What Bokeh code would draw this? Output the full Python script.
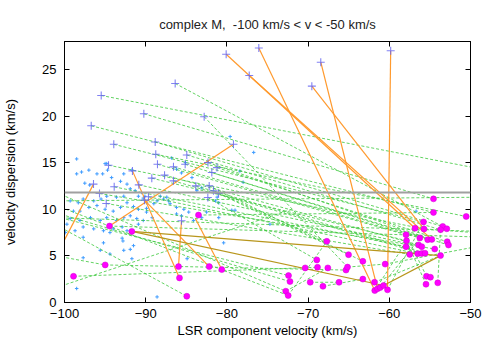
from bokeh.plotting import figure
from bokeh.models import ColumnDataSource, Span, LinearAxis, FixedTicker, Range1d
from bokeh.embed import file_html
from bokeh.resources import INLINE

title_text = "complex M,\u00a0 -100 km/s < v < -50 km/s"
x_label = "LSR component velocity (km/s)"
y_label = "velocity dispersion (km/s)"
x_ticks = [-100, -90, -80, -70, -60, -50]
y_ticks = [0, 5, 10, 15, 20, 25]
threshold = 11.8

# final positions (magenta)
end_x = [-94.46, -91.71, -94.99, -98.89, -85.96, -85.84, -84.94, -82.18, -80.63, -83.50,
         -67.70, -65.02, -63.26, -68.93, -70.36, -68.84, -67.57, -65.33, -65.15, -72.41,
         -72.23, -69.74, -68.17, -66.19, -72.75, -72.45, -63.26, -61.82, -61.79, -61.45,
         -61.12, -60.71, -60.22, -60.51, -54.56, -54.56, -50.53, -55.79, -56.83, -55.73,
         -53.42, -52.92, -53.69, -57.94, -56.24, -55.27, -54.77, -52.87, -52.71, -57.88,
         -56.40, -57.94, -56.00, -54.41, -57.48, -56.50, -56.00, -55.60, -53.69, -55.42,
         -54.93, -54.03, -55.48]
end_y = [8.20, 7.63, 4.03, 2.81, 3.85, 2.64, 0.67, 3.85, 3.53, 9.38,
         6.56, 5.13, 4.42, 4.57, 3.71, 3.78, 3.71, 3.48, 3.80, 2.89,
         2.25, 2.17, 1.74, 2.17, 1.21, 0.75, 2.51, 2.17, 1.28, 1.47,
         1.60, 1.82, 1.36, 4.12, 11.12, 9.66, 9.23, 8.64, 7.97, 7.88,
         8.16, 7.91, 7.81, 7.27, 6.92, 6.74, 6.77, 6.52, 6.17, 6.63,
         6.18, 5.99, 5.99, 5.74, 5.16, 5.24, 5.27, 5.29, 5.03, 2.81,
         2.71, 2.11, 1.96]

# initial positions (large blue crosses)
start_x = [-80.09, -76.07, -77.25, -68.44, -69.54, -59.83, -86.37, -95.48, -90.23, -82.80,
           -96.71, -93.93, -88.83, -88.76, -84.94, -94.58, -88.55, -86.58, -82.33, -81.22,
           -81.86, -79.19, -91.63, -89.25, -87.68, -93.88, -90.85, -96.43, -95.69, -94.86,
           -90.15, -89.66, -86.58, -83.83, -82.18, -81.03, -82.35, -85.59, -81.65, -85.14]
start_y = [26.63, 27.30, 24.35, 25.78, 23.21, 27.01, 23.50, 22.21, 20.25, 19.93,
           18.96, 16.97, 17.22, 15.90, 15.83, 14.73, 14.83, 14.55, 15.01, 14.47,
           13.94, 16.97, 14.12, 13.34, 13.66, 12.41, 12.62, 12.70, 11.69, 10.62,
           10.98, 11.34, 13.05, 12.51, 12.51, 11.69, 11.26, 8.77, 11.98, 14.83]

# small light-blue points
small_x = [-98.5, -97.9, -98.5, -97.0, -95.0, -94.7, -96.0, -95.3, -97.5, -96.9,
           -94.2, -93.1, -92.7, -92.3, -91.9, -91.3, -90.9, -90.3, -89.9, -90.5,
           -92.7, -93.6, -94.8, -95.5, -96.4, -97.7, -98.3, -99.3, -98.9, -98.1,
           -97.0, -96.0, -95.0, -94.0, -93.1, -92.3, -91.5, -90.9, -89.9, -89.0,
           -88.6, -88.2, -87.8, -87.2, -99.3, -98.1, -96.8, -95.6, -94.8, -93.6,
           -92.7, -91.9, -91.1, -97.7, -96.4, -95.2, -94.0, -92.9, -92.3, -90.9,
           -89.2, -99.9, -98.7, -89.9, -90.1, -92.8, -92.9, -91.5, -92.7, -94.4,
           -95.6, -97.7, -98.5, -88.6, -84.9, -91.7, -91.9, -90.3, -94.4, -95.2,
           -97.7, -99.7, -94.8, -79.6, -86.8, -85.1, -86.2, -85.6, -84.3, -83.7,
           -83.1, -81.2, -81.4, -81.0, -87.4, -87.0, -86.2, -85.3, -84.7, -86.2,
           -85.6, -84.1, -83.1, -82.5, -81.0, -79.4, -78.0, -78.4, -76.7, -79.0,
           -74.7, -80.4, -56.7, -91.7]
small_y = [15.4, 14.0, 13.8, 14.2, 14.9, 14.2, 13.8, 13.8, 12.8, 12.6,
           13.4, 13.0, 13.8, 12.7, 12.2, 12.0, 11.4, 11.2, 10.7, 11.8,
           11.4, 11.3, 11.4, 11.1, 10.9, 11.1, 10.7, 10.9, 9.8, 9.8,
           10.2, 10.4, 10.0, 9.8, 10.2, 10.7, 10.3, 10.0, 10.1, 10.6,
           10.9, 11.4, 11.1, 10.9, 9.0, 8.8, 9.1, 8.8, 9.1, 8.8,
           9.1, 9.3, 9.0, 8.1, 7.9, 7.7, 7.9, 8.1, 7.7, 8.4,
           9.1, 7.5, 7.7, 9.7, 11.4, 6.6, 6.9, 6.1, 5.6, 5.2,
           5.6, 4.8, 1.5, 0.6, 4.7, 4.7, 5.7, 8.8, 7.5, 6.4,
           7.0, 8.4, 14.9, 17.8, 15.5, 15.0, 14.3, 13.9, 13.4, 12.0,
           12.3, 11.3, 10.9, 10.7, 11.3, 10.6, 10.2, 10.0, 9.7, 9.5,
           9.3, 8.8, 9.1, 9.7, 9.1, 9.9, 12.9, 14.1, 16.1, 9.9,
           8.4, 6.4, 9.8, 14.2]

# green dashed tracks
g_x0 = [-86.37, -95.48, -90.23, -82.80, -96.71, -93.93, -88.83, -88.76, -84.94, -94.58,
        -88.55, -86.58, -82.33, -81.22, -81.86, -89.25, -87.68, -93.88, -90.85, -95.69,
        -94.86, -89.66, -86.58, -83.83, -82.18, -81.03, -82.35, -81.65, -85.14, -101.0,
        -101.0, -101.0, -101.0, -101.0, -101.0, -101.0, -61.79, -60.22, -61.12, -61.82,
        -72.75, -72.45, -55.42, -55.48, -54.03, -69.74, -56.83, -60.51, -94.46, -101.0,
        -101.0, -83.50, -98.89, -94.99, -68.17, -65.15]
g_y0 = [23.50, 22.21, 20.25, 19.93, 18.96, 16.97, 17.22, 15.90, 15.83, 14.73,
        14.83, 14.55, 15.01, 14.47, 13.94, 13.34, 13.66, 12.41, 12.62, 11.69,
        10.62, 11.34, 13.05, 12.51, 12.51, 11.69, 11.26, 11.98, 14.83, 11.8,
        10.4, 9.2, 9.6, 9.1, 10.9, 1.6, 1.28, 1.36, 1.60, 2.17,
        1.21, 0.75, 2.81, 1.96, 2.11, 2.17, 7.97, 4.12, 8.20, 5.0,
        8.3, 9.38, 2.81, 4.03, 1.74, 3.80]
g_x1 = [-52.92, -48.0, -54.56, -65.15, -54.56, -55.79, -53.42, -50.53, -53.69, -55.73,
        -57.94, -56.24, -54.77, -52.87, -52.71, -57.88, -56.40, -57.94, -56.00, -54.41,
        -57.48, -56.50, -56.00, -55.60, -63.26, -65.02, -68.93, -67.70, -55.27, -72.75,
        -72.45, -72.41, -72.23, -48.0, -48.0, -72.0, -56.83, -55.79, -56.24, -53.69,
        -67.57, -67.70, -57.94, -57.88, -53.69, -66.19, -48.0, -48.0, -48.0, -94.99,
        -84.94, -54.56, -68.84, -65.33, -63.26, -60.51]
g_y1 = [7.91, 14.2, 11.12, 3.80, 9.66, 8.64, 8.16, 9.23, 7.81, 7.88,
        7.27, 6.92, 6.77, 6.52, 6.17, 6.63, 6.18, 5.99, 5.99, 5.74,
        5.16, 5.24, 5.27, 5.29, 4.42, 5.13, 4.57, 6.56, 6.74, 1.21,
        0.75, 2.89, 2.25, 7.6, 11.3, 10.0, 7.97, 8.64, 6.92, 5.03,
        3.71, 6.56, 7.27, 6.63, 7.81, 2.17, 7.4, 6.2, 7.0, 4.03,
        0.67, 9.66, 3.78, 3.48, 2.51, 4.12]

# orange tracks
o_x0 = [-80.09, -77.25, -69.54, -76.07, -68.44, -59.83, -96.43, -94.46, -91.63, -85.96, -90.15, -83.87]
o_y0 = [26.63, 24.35, 23.21, 27.30, 25.78, 27.01, 12.70, 8.20, 14.12, 3.85, 10.98, 8.98]
o_x1 = [-56.83, -54.77, -55.73, -61.79, -61.45, -60.22, -101.0, -79.19, -85.84, -85.59, -82.18, -80.63]
o_y1 = [7.97, 6.77, 7.88, 1.28, 1.47, 1.36, 5.04, 16.97, 2.64, 8.77, 3.85, 3.53]

# olive tracks
v_x0 = [-91.71, -91.71, -60.71]
v_y0 = [7.63, 7.63, 1.82]
v_x1 = [-53.69, -60.71, -53.69]
v_y1 = [5.03, 1.82, 5.03]

FONT = "Liberation Sans"

p = figure(frame_width=406, frame_height=261,
           x_range=Range1d(-100, -50), y_range=Range1d(0, 28),
           output_backend="svg", toolbar_location=None,
           min_border_left=61, min_border_right=24,
           min_border_top=41, min_border_bottom=41,
           background_fill_color="white", border_fill_color="white")

p.title.text = title_text
p.title.align = "center"
p.title.text_font = FONT
p.title.text_font_size = "13px"
p.title.text_font_style = "normal"
p.title.text_color = "#222222"
p.title.standoff = 19

p.grid.visible = False
p.outline_line_color = "black"
p.outline_line_width = 1

for ax in [p.xaxis[0], p.yaxis[0]]:
    ax.major_tick_in = 5
    ax.major_tick_out = 0
    ax.minor_tick_line_color = None
    ax.axis_line_color = "black"
    ax.major_tick_line_color = "black"
    ax.major_label_text_font = FONT
    ax.major_label_text_font_size = "13px"
    ax.major_label_text_color = "black"
    ax.axis_label_text_font = FONT
    ax.axis_label_text_font_size = "13px"
    ax.axis_label_text_font_style = "normal"
    ax.axis_label_text_color = "black"

p.xaxis.ticker = FixedTicker(ticks=x_ticks)
p.yaxis.ticker = FixedTicker(ticks=y_ticks)
p.xaxis.axis_label = x_label
p.yaxis.axis_label = y_label
p.xaxis.major_label_standoff = 6
p.xaxis.axis_label_standoff = 2
p.yaxis.major_label_standoff = 8
p.yaxis.axis_label_standoff = 21

for loc, ticks in [("above", x_ticks), ("right", y_ticks)]:
    ax = LinearAxis(ticker=FixedTicker(ticks=ticks))
    ax.major_tick_in = 5
    ax.major_tick_out = 0
    ax.minor_tick_line_color = None
    ax.major_label_text_font_size = "1px"
    ax.major_label_text_color = None
    ax.axis_line_color = "black"
    p.add_layout(ax, loc)

p.scatter(small_x, small_y, marker="cross", size=3.5, line_color="#3f9cff", line_width=1)

p.segment(x0=g_x0, y0=g_y0, x1=g_x1, y1=g_y1, line_color="#3cc83c", line_width=1,
          line_dash="3 2", line_alpha=0.8)
p.segment(x0=o_x0, y0=o_y0, x1=o_x1, y1=o_y1, line_color="#ff9a2e", line_width=1.2)
p.segment(x0=v_x0, y0=v_y0, x1=v_x1, y1=v_y1, line_color="#b8961c", line_width=1.2)

p.scatter(start_x, start_y, marker="cross", size=8, line_color="#6262f0", line_width=1.1, line_alpha=0.8)
p.scatter(end_x, end_y, marker="circle", size=6, fill_color="#ff00ff", line_color="#d000d0", line_width=0.5)

p.add_layout(Span(location=threshold, dimension="width", line_color="#a0a0a0", line_width=2))

open("out.html", "w").write(file_html(p, INLINE))
